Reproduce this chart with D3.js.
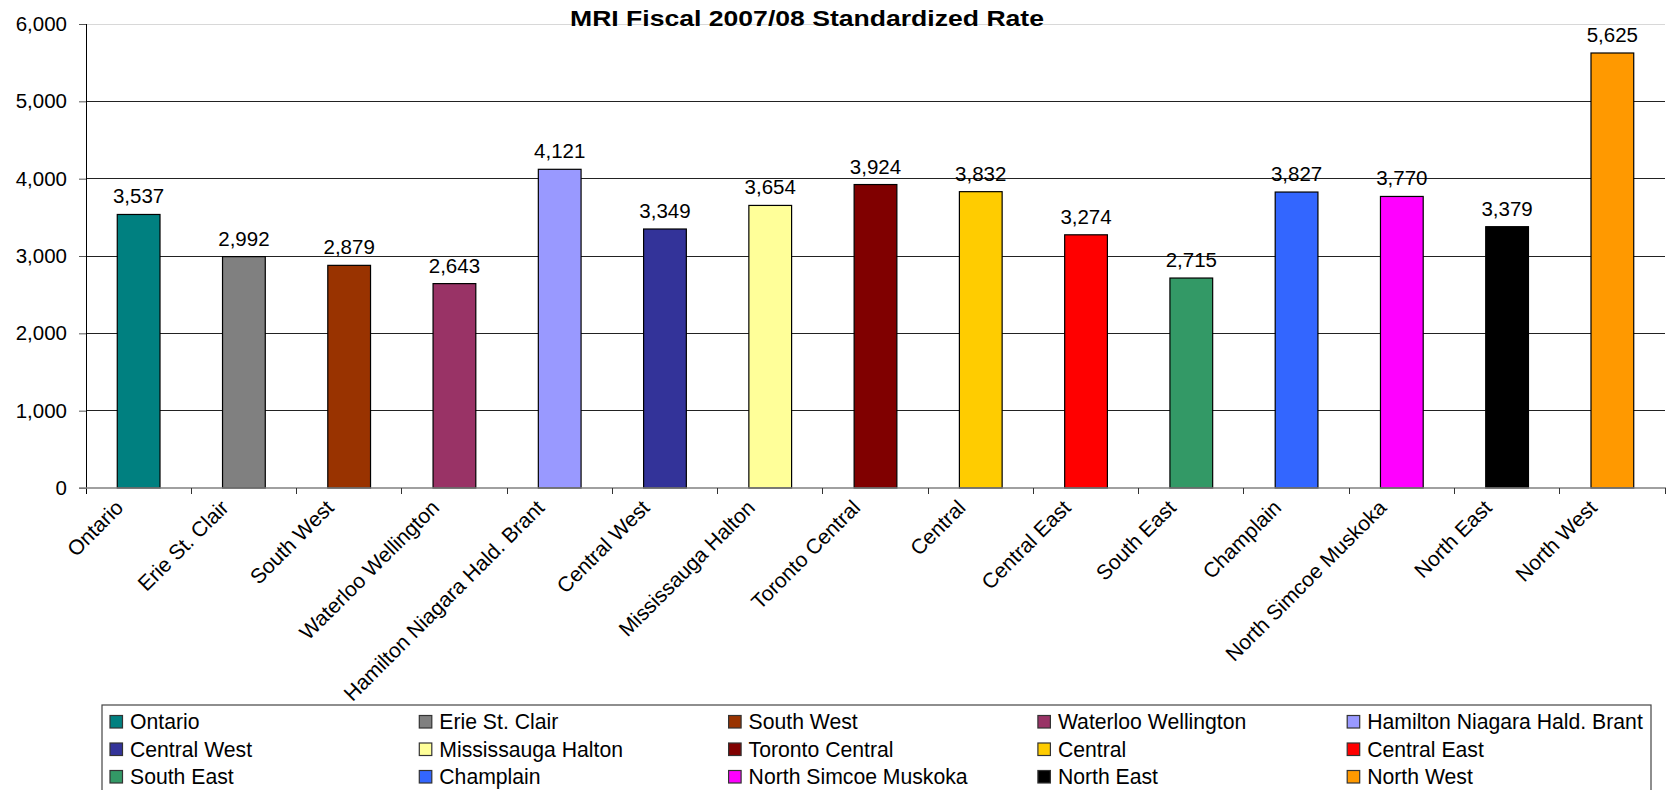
<!DOCTYPE html>
<html><head><meta charset="utf-8">
<script src="https://cdn.jsdelivr.net/npm/d3@7"></script>
<style>
html,body{margin:0;padding:0;background:#fff;}
text{font-family:Arial,"Liberation Sans",sans-serif;fill:#000;}
</style></head>
<body><svg id="c" width="1666" height="790"></svg>
<script>
const title = "MRI Fiscal 2007/08 Standardized Rate";
const categories = ["Ontario","Erie St. Clair","South West","Waterloo Wellington","Hamilton Niagara Hald. Brant","Central West","Mississauga Halton","Toronto Central","Central","Central East","South East","Champlain","North Simcoe Muskoka","North East","North West"];
const values = [3537,2992,2879,2643,4121,3349,3654,3924,3832,3274,2715,3827,3770,3379,5625];
const colors = ["#008080","#808080","#993300","#993366","#9999FF","#333399","#FFFF99","#800000","#FFCC00","#FF0000","#339966","#3366FF","#FF00FF","#000000","#FF9900"];
const yTicks = [0,1000,2000,3000,4000,5000,6000];

const svg = d3.select("#c");
const pLeft = 86, pRight = 1665, pTop = 24, pBottom = 488;
const x = d3.scaleBand().domain(categories).range([pLeft, pRight]).paddingInner(0.594).paddingOuter(0.297);
const y = d3.scaleLinear().domain([0, 6000]).range([pBottom, pTop]);
const fmt = d3.format(",");

// gridlines
svg.append("g").selectAll("line").data(yTicks.filter(d => d > 0)).join("line")
  .attr("x1", pLeft).attr("x2", pRight).attr("y1", d => y(d)).attr("y2", d => y(d))
  .attr("stroke", d => d === 6000 ? "#d8d8d8" : "#222").attr("stroke-width", 1).attr("shape-rendering","crispEdges");

// title
svg.append("text").attr("x", 807).attr("y", 26).attr("text-anchor","middle")
  .attr("font-weight","bold").attr("font-size", 22)
  .attr("textLength", 474).attr("lengthAdjust","spacingAndGlyphs").text(title);

// bars
svg.append("g").selectAll("rect").data(categories).join("rect")
  .attr("x", d => x(d)).attr("width", x.bandwidth())
  .attr("y", (d,i) => y(values[i])).attr("height", (d,i) => y(0) - y(values[i]))
  .attr("fill", (d,i) => colors[i]).attr("stroke", "#000").attr("stroke-width", 1.2);

// value labels
svg.append("g").selectAll("text").data(categories).join("text")
  .attr("x", d => x(d) + x.bandwidth()/2).attr("y", (d,i) => y(values[i]) - 11)
  .attr("text-anchor","middle").attr("font-size", 20.5).text((d,i) => fmt(values[i]));

// y axis
const yAxis = d3.axisLeft(y).tickValues(yTicks).tickFormat(fmt).tickSize(7).tickPadding(12);
const yg = svg.append("g").attr("transform", `translate(${pLeft},0)`).call(yAxis);
yg.select(".domain").remove();
yg.selectAll(".tick line").attr("stroke","#555");
yg.selectAll(".tick text").attr("font-size", 20.5).attr("font-family","Arial, 'Liberation Sans', sans-serif").attr("fill","#000");
svg.append("line").attr("x1", pLeft).attr("x2", pLeft).attr("y1", pTop).attr("y2", pBottom + 6)
  .attr("stroke","#000").attr("shape-rendering","crispEdges");

// x axis line + boundary ticks
svg.append("line").attr("x1", pLeft - 7).attr("x2", pRight + 1).attr("y1", pBottom).attr("y2", pBottom)
  .attr("stroke","#808080").attr("stroke-width", 1.5);
const step = x.step();
svg.append("g").selectAll("line").data(d3.range(1, categories.length + 1)).join("line")
  .attr("x1", i => pLeft + i * step).attr("x2", i => pLeft + i * step)
  .attr("y1", pBottom).attr("y2", pBottom + 6).attr("stroke","#333").attr("shape-rendering","crispEdges");

// x labels
svg.append("g").selectAll("text").data(categories).join("text")
  .attr("transform", d => `translate(${x(d) + x.bandwidth()/2 - 14},${pBottom + 21}) rotate(-45)`)
  .attr("text-anchor","end").attr("font-size", 21).text(d => d);

// legend
const lg = svg.append("g");
lg.append("rect").attr("x", 102).attr("y", 705).attr("width", 1549).attr("height", 100)
  .attr("fill","#fff").attr("stroke","#444").attr("stroke-width", 1.2);
const colW = 309.3, rowH = 27.5;
const items = lg.selectAll("g.item").data(categories).join("g").attr("class","item")
  .attr("transform", (d,i) => `translate(${110 + (i % 5) * colW},${722 + Math.floor(i / 5) * rowH})`);
items.append("rect").attr("x", 0).attr("y", -6.5).attr("width", 12.5).attr("height", 12.5)
  .attr("fill", (d,i) => colors[i]).attr("stroke","#333").attr("stroke-width", 1.2);
items.append("text").attr("x", 20).attr("y", 7).attr("font-size", 21.2).text(d => d);
</script></body></html>
